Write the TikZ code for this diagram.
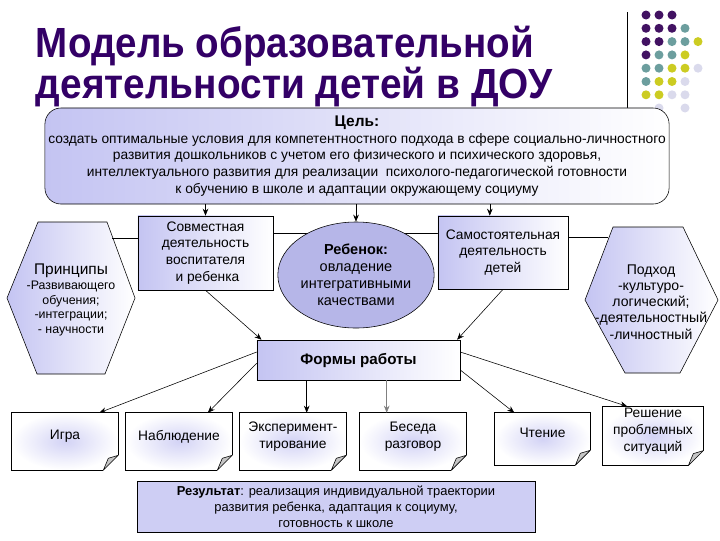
\documentclass[tikz,border=0pt]{standalone}
\usepackage{fontspec}
\usepackage{graphicx}
\setmainfont{Liberation Sans}
\usetikzlibrary{arrows.meta, positioning, shapes.geometric, calc, backgrounds}
\definecolor{title-purple}{RGB}{51,0,102}
\definecolor{dot-purple}{RGB}{66,18,98}
\definecolor{dot-teal}{RGB}{108,158,158}
\definecolor{dot-olive}{RGB}{204,204,34}
\definecolor{dot-lilac}{RGB}{218,218,236}
\definecolor{box-lilac}{RGB}{196,196,242}
\definecolor{child-lilac}{RGB}{182,182,232}
\definecolor{result-lilac}{RGB}{206,206,244}

\begin{document}
\begin{tikzpicture}[
  x=0.025cm, y=-0.025cm,
  txt/.style={font=\fontsize{9.8}{12}\selectfont, align=center},
  box/.style={rectangle,draw,thin,txt,inner sep=2pt,left color=box-lilac,right color=white},
  hexa/.style={draw,thin,left color=box-lilac,right color=white},
  note/.style={rectangle,txt,inner sep=1pt,text depth=9pt,inner color=box-lilac!75,outer color=white},
  fold/.style={draw,thin,fill=gray!45,line join=round},
  title/.style={anchor=base west,text=title-purple,font=\fontsize{30}{34}\selectfont\bfseries},
  link/.style={thin},
  arrow/.style={-{Stealth[length=5pt,width=4pt]},thin}
]
  \useasboundingbox (0,0) rectangle (720,540);

  % title and corner dots
  \node[title] (title1) at (31,57) {\resizebox{12.45cm}{\height}{Модель образовательной}};
  \node[title] (title2) at (31,98) {\resizebox{12.9cm}{\height}{деятельности детей в ДОУ}};
  \draw[thin] (627,12) -- (627,108);
  \foreach \r/\n in {0/2,1/3,2/4,3/3,4/4,5/3,6/3}
    \foreach \c in {0,...,\n} {
      \pgfmathsetmacro\idx{int(min(3,max(0,floor((\r+\c-2)/2))))}
      \pgfmathsetmacro\dotcol{{"dot-purple","dot-teal","dot-olive","dot-lilac"}[\idx]}
      \fill[\dotcol] (646+13*\c,15+13.3*\r) circle (4.5);
    }
  \foreach \c in {1,3}
    \fill[dot-lilac] (646+13*\c,108) circle (4.5);

  % goal
  \node[box, rounded corners=0.4cm, minimum width=15.6cm, minimum height=2.4cm,
        font=\fontsize{9.8}{12}\selectfont] (goal) at (357,156)
    {{\fontsize{11}{12}\selectfont\textbf{Цель:}}\\
     создать оптимальные условия для компетентностного подхода в сфере социально-личностного\\
     развития дошкольников с учетом его физического и психического здоровья,\\
     интеллектуального развития для реализации\ \ психолого-педагогической\ готовности\\
     к обучению в школе и адаптации окружающему социуму};

  % middle row
  \node[box, minimum width=3.375cm, minimum height=1.85cm] (joint) at (205.5,253)
    {Совместная\\деятельность\\воспитателя\\\ и ребенка};
  \node[ellipse, draw, thin, fill=child-lilac, minimum width=3.55cm, minimum height=2.65cm,
        inner sep=0pt, txt, font=\fontsize{10.3}{12.2}\selectfont] (child) at (356,275)
    {\textbf{Ребенок:}\\овладение\\интегративными\\качествами};
  \node[box, minimum width=3.25cm, minimum height=1.825cm] (indep) at (503,252.5)
    {Самостоятельная\\деятельность\\детей};

  \path[hexa] (38,222) -- (107,222) -- (135,298) -- (105,374) -- (37,374) -- (7,298) -- cycle;
  \node[txt, font=\fontsize{8.8}{10.6}\selectfont] (princ) at (71,300)
    {{\fontsize{11}{12}\selectfont Принципы}\\-Развивающего\\обучения;\\-интеграции;\\- научности};
  \path[hexa] (613,227) -- (683,227) -- (718,300) -- (680,373) -- (625,373) -- (585,300) -- cycle;
  \node[txt, font=\fontsize{10}{11.5}\selectfont] (appr) at (651,302)
    {Подход\\-культуро-\\логический;\\-деятельностный\\-личностный};

  \coordinate (princ-edge) at (112,238);
  \coordinate (appr-edge) at (608,237);
  \coordinate (mid) at (356,233);
  \draw[link] (princ-edge) -- (princ-edge -| joint.west);
  \draw[link] (indep.east |- appr-edge) -- (appr-edge);
  \begin{pgfonlayer}{background}
    \draw[link] (joint.east |- mid) -- (indep.west |- mid);
  \end{pgfonlayer}

  \draw[arrow] (goal.south -| joint) -- (joint);
  \draw[arrow] (goal.south -| child) -- (child);
  \draw[arrow] ([xshift=-0.33cm]goal.south -| indep.north) -- ([xshift=-0.33cm]indep.north);

  % forms of work
  \node[box, minimum width=5.075cm, minimum height=1cm,
        font=\fontsize{10.8}{12}\selectfont\bfseries] (forms) at (358.5,360) {Формы работы};
  \draw[arrow] (joint.south) -- ([xshift=0.12cm]forms.north west);
  \draw[arrow] (indep.south) -- ([xshift=-0.08cm]forms.north east);

  \node[note, minimum width=2.65cm, minimum height=1.425cm] (game)    at (65,441.5)  {Игра};
  \node[note, minimum width=2.65cm, minimum height=1.425cm] (observe) at (179,441.5) {Наблюдение};
  \node[note, minimum width=2.65cm, minimum height=1.425cm] (exper)   at (293,441.5) {Эксперимент-\\тирование};
  \node[note, minimum width=2.65cm, minimum height=1.425cm] (talk)    at (413,441.5) {Беседа\\разговор};
  \node[note, minimum width=2.375cm, minimum height=1.3cm]  (read)    at (542.5,439) {Чтение};
  \node[note, minimum width=2.5cm, minimum height=1.45cm]   (solve)   at (653,436)   {Решение\\проблемных\\ситуаций};
  \foreach \n in {game,observe,exper,talk,read,solve} {
    \draw[thin] ($(\n.south east)+(0,-15)$) -- (\n.north east) -- (\n.north west)
      -- (\n.south west) -- ($(\n.south east)+(-15,0)$);
    \draw[fold] ($(\n.south east)+(0,-15)$) -- ($(\n.south east)+(-15,0)$)
      -- ($(\n.south east)+(-10,-12)$) -- cycle;
  }

  \draw[arrow] ([yshift=0.2cm]forms.west) -- (game.40);
  \draw[arrow] ([yshift=-0.08cm]forms.west) -- (observe.45);
  \draw[arrow] ([xshift=1.25cm]forms.south west) coordinate (f-exper) -- (f-exper |- exper.north);
  \draw[arrow, gray] ([xshift=3.25cm]forms.south west) coordinate (f-talk) -- (f-talk |- talk.north);
  \draw[arrow] ([yshift=-0.25cm]forms.east) -- (read.137);
  \draw[arrow] ([yshift=0.2cm]forms.east) -- (solve.131);

  % result
  \node[rectangle, draw, thin, fill=result-lilac, minimum width=9.95cm, minimum height=1.25cm,
        txt, font=\fontsize{9.2}{11.4}\selectfont] (result) at (336,507)
    {\textbf{Результат}: реализация индивидуальной траектории\\
     развития ребенка, адаптация к социуму,\\
     готовность к школе};
\end{tikzpicture}
\end{document}
